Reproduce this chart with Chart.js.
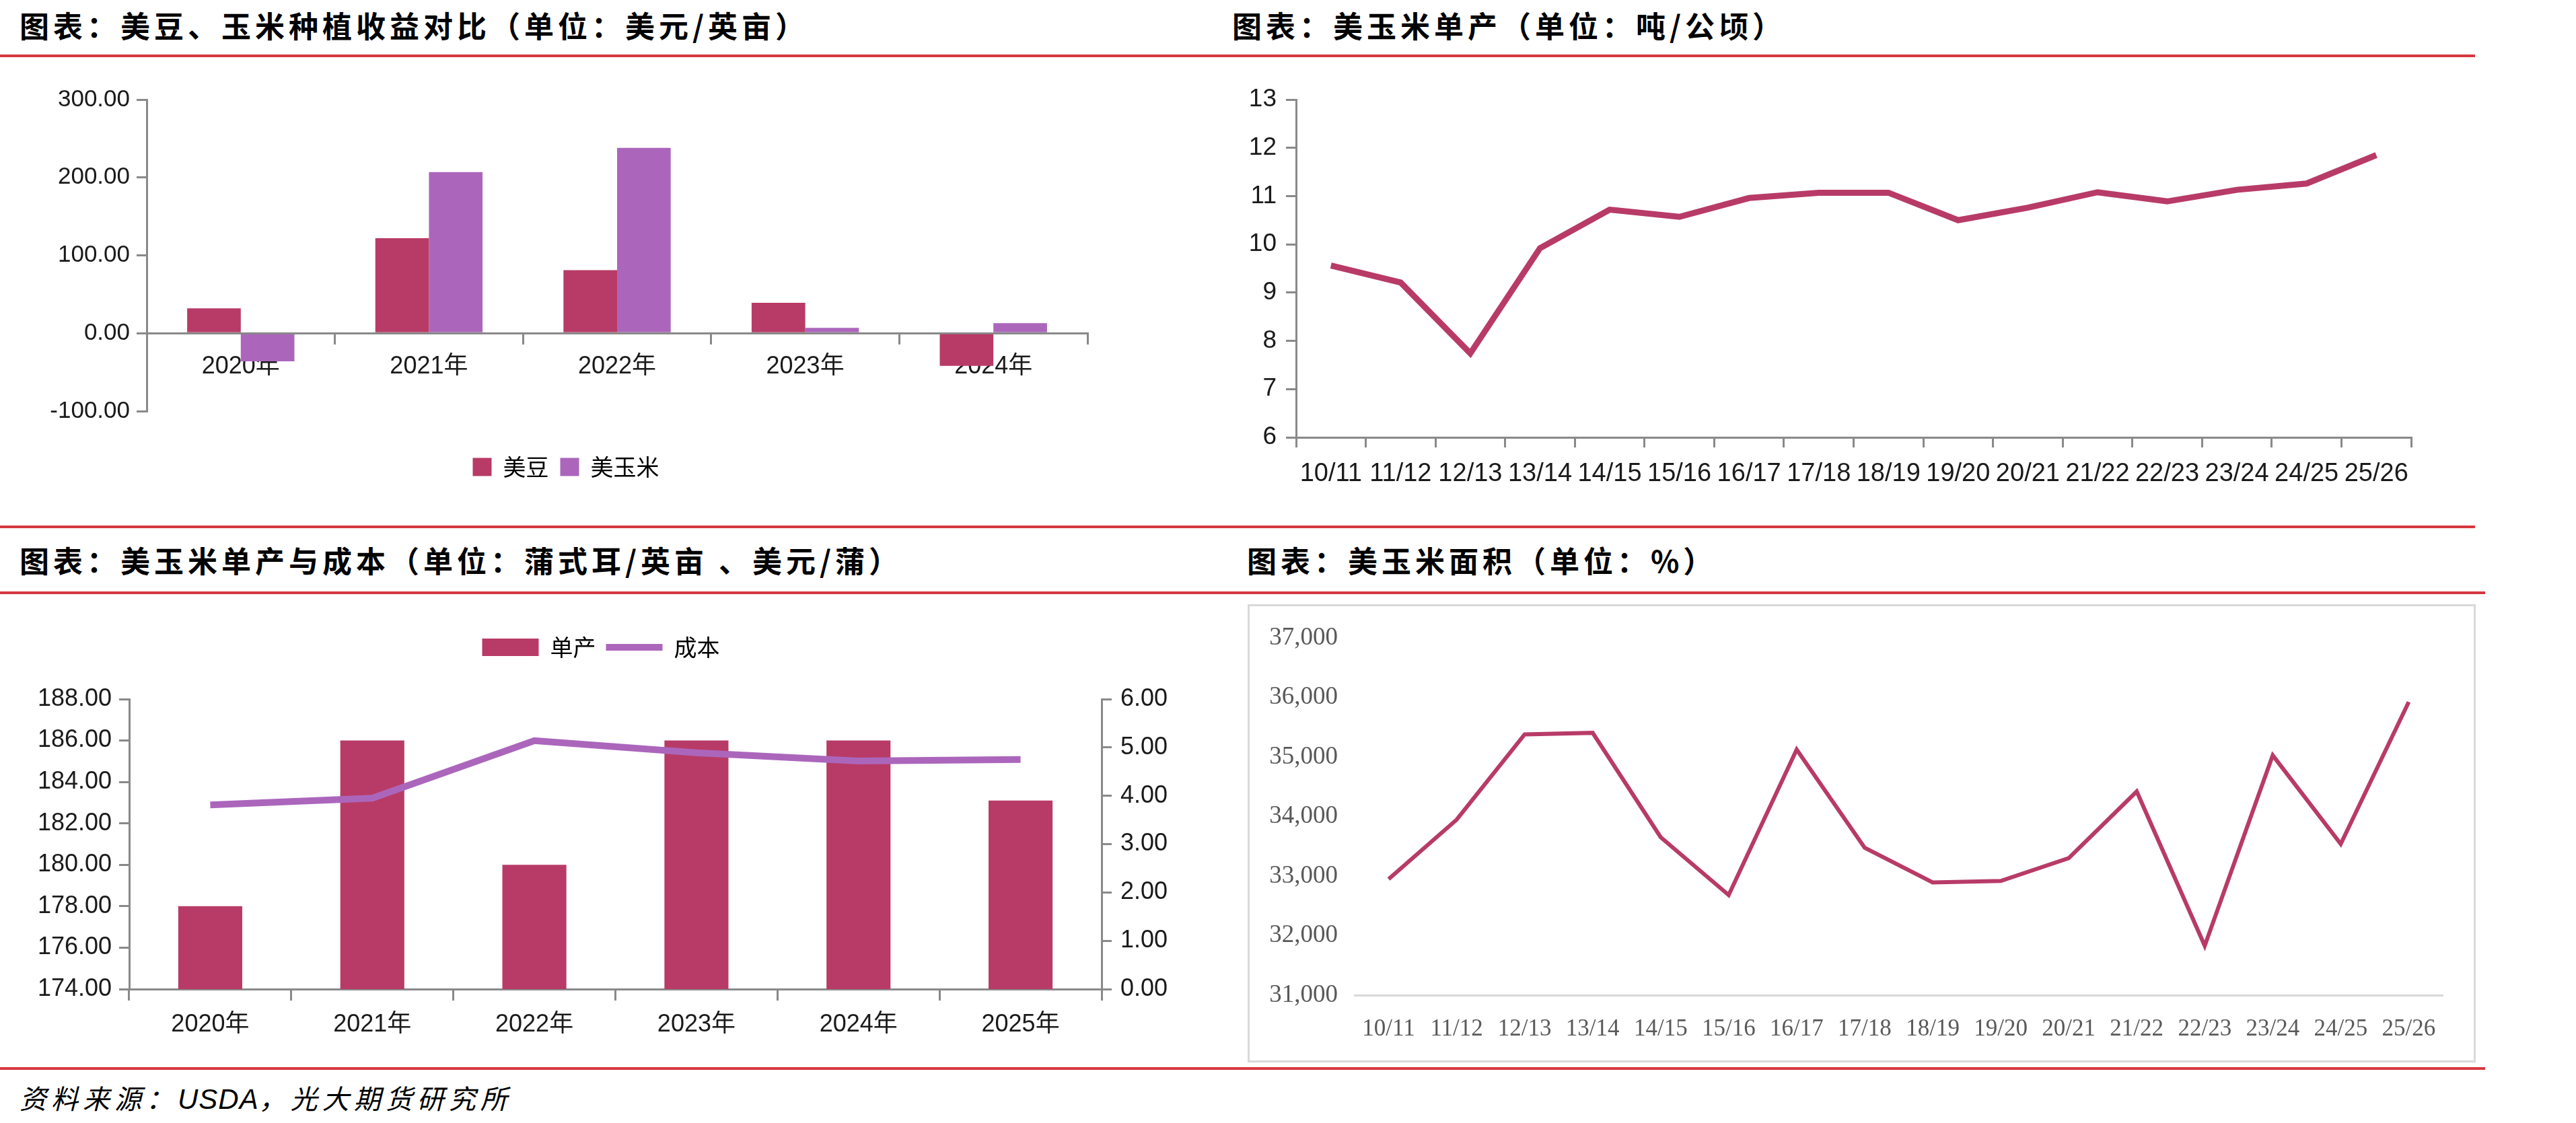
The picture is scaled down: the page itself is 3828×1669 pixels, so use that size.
<!DOCTYPE html>
<html lang="zh-CN">
<head>
<meta charset="utf-8">
<title>美豆、玉米收益与单产</title>
<script src="https://cdn.jsdelivr.net/npm/chart.js@4.4.1/dist/chart.umd.min.js"></script>
<style>
  html, body { margin: 0; padding: 0; background: #fff; }
  body { width: 3828px; height: 1669px; position: relative; overflow: hidden; }
  .title { position: absolute; font-family: "Noto Sans CJK SC", sans-serif; font-weight: 700; font-size: 44px; line-height: 44px; letter-spacing: 6px; color: #000; white-space: nowrap; }
  .rule { position: absolute; left: 0; height: 4px; background: #d7373f; }
  .panel { position: absolute; }
  .boxed { border: 3px solid #d9d9d9; box-sizing: border-box; }
  .source { position: absolute; left: 29px; top: 1610px; font-family: "Noto Sans CJK SC", sans-serif; font-style: italic; font-size: 40px; line-height: 42px; letter-spacing: 7px; color: #000; white-space: nowrap; }
  .source .latin { font-family: "Liberation Sans", sans-serif; letter-spacing: 1px; font-size: 42px; }
</style>
</head>
<body>
<div class="title" style="left:29px; top:15px;">图表：美豆、玉米种植收益对比（单位：美元/英亩）</div>
<div class="title" style="left:1831px; top:15px;">图表：美玉米单产（单位：吨/公顷）</div>
<div class="rule" style="top:81px; width:3678px;"></div>

<div class="panel" style="left:0; top:100px;"><canvas id="income" width="1760" height="650"></canvas></div>
<div class="panel" style="left:1800px; top:100px;"><canvas id="yield" width="2028" height="650"></canvas></div>

<div class="rule" style="top:781px; width:3678px;"></div>
<div class="title" style="left:29px; top:810px;">图表：美玉米单产与成本（单位：蒲式耳/英亩 、美元/蒲）</div>
<div class="title" style="left:1853px; top:810px;">图表：美玉米面积（单位：%）</div>
<div class="rule" style="top:879px; width:3693px;"></div>

<div class="panel" style="left:0; top:890px;"><canvas id="cost" width="1786" height="680"></canvas></div>
<div class="panel boxed" style="left:1854px; top:898px; width:1825px; height:681px;"><canvas id="area" width="1819" height="675"></canvas></div>

<div class="rule" style="top:1586px; width:3693px;"></div>
<div class="source">资料来源：<span class="latin">USDA</span>，光大期货研究所</div>

<script>
// 收益对比（美元/英亩）
const incomeYears = ['2020年', '2021年', '2022年', '2023年', '2024年'];
const soyIncome = [32, 122, 81, 39, -42];
const cornIncome = [-36, 207, 238, 7, 13];

// 美玉米单产（吨/公顷）与面积
const seasons = ['10/11', '11/12', '12/13', '13/14', '14/15', '15/16', '16/17', '17/18',
    '18/19', '19/20', '20/21', '21/22', '22/23', '23/24', '24/25', '25/26'];
const cornYield = [9.56, 9.21, 7.74, 9.92, 10.72, 10.57, 10.96, 11.07,
    11.07, 10.50, 10.76, 11.08, 10.89, 11.13, 11.26, 11.85];
const cornArea = [32950, 33948, 35381, 35407, 33654, 32681, 35125, 33475,
    32893, 32918, 33302, 34422, 31830, 35029, 33539, 35925];

// 单产（蒲式耳/英亩）与成本（美元/蒲）
const costYears = ['2020年', '2021年', '2022年', '2023年', '2024年', '2025年'];
const yieldBu = [178, 186, 180, 186, 186, 183.1];
const costPerBu = [3.81, 3.95, 5.14, 4.89, 4.72, 4.75];

const RED = '#b83b67';
const PURPLE = '#ab66bc';
const AXIS = '#898989';
const SANS = "'Liberation Sans', 'Noto Sans CJK SC', sans-serif";
const SERIF = "'Liberation Serif', 'Noto Sans CJK SC', serif";
const CJK = "'Noto Sans CJK SC', sans-serif";

Chart.defaults.font.family = SANS;
Chart.defaults.color = '#1a1a1a';
Chart.defaults.animation = false;
Chart.defaults.plugins.tooltip.enabled = false;

const fixW = w => s => { s.width = w; };
const fixH = h => s => { s.height = h; };
// force the legend box to a set height so the plot area lands where it should
const legendHeight = h => ({
    id: 'legendHeight',
    beforeInit(chart) {
        const fit = chart.legend.fit;
        chart.legend.fit = function () { fit.call(this); this.height = h; };
    }
});
const axisGrid = len => ({ drawOnChartArea: false, tickLength: len, color: AXIS, lineWidth: 3 });
const axisBorder = { color: AXIS, width: 3 };
const fixed2 = v => v.toFixed(2);

// 1. 美豆、玉米种植收益对比
new Chart(document.getElementById('income'), {
    type: 'bar',
    data: {
        labels: incomeYears,
        datasets: [
            { label: '美豆', data: soyIncome, backgroundColor: RED },
            { label: '美玉米', data: cornIncome, backgroundColor: PURPLE }
        ]
    },
    options: {
        responsive: false,
        layout: { padding: { left: 66, top: 48, right: 144, bottom: 0 } },
        datasets: { bar: { categoryPercentage: 0.57, barPercentage: 1 } },
        scales: {
            x: {
                position: { y: 0 },
                grid: axisGrid(15), border: axisBorder,
                ticks: { font: { size: 36 }, padding: 13, maxRotation: 0 }
            },
            gap: {
                type: 'category', position: 'bottom',
                grid: { display: false, drawTicks: false }, border: { display: false },
                ticks: { display: false }, afterFit: fixH(49)
            },
            y: {
                min: -100, max: 300,
                ticks: { stepSize: 100, callback: fixed2, font: { size: 35 }, padding: 10 },
                grid: axisGrid(15), border: axisBorder, afterFit: fixW(152)
            }
        },
        plugins: {
            legend: {
                position: 'bottom',
                labels: { boxWidth: 28, boxHeight: 27, padding: 17, color: '#000', font: { size: 34, family: CJK } }
            }
        }
    },
    plugins: [legendHeight(90)]
});

// 2. 美玉米单产
new Chart(document.getElementById('yield'), {
    type: 'line',
    data: {
        labels: seasons,
        datasets: [{ label: '单产', data: cornYield, borderColor: RED, borderWidth: 9, pointRadius: 0 }]
    },
    options: {
        responsive: false,
        layout: { padding: { left: 0, top: 48, right: 245, bottom: 0 } },
        scales: {
            x: {
                offset: true,
                grid: { ...axisGrid(15), offset: true }, border: axisBorder,
                ticks: { font: { size: 38 }, padding: 17, autoSkip: false, maxRotation: 0 },
                afterFit: fixH(100)
            },
            y: {
                min: 6, max: 13,
                ticks: { stepSize: 1, font: { size: 37 }, padding: 14 },
                grid: axisGrid(15), border: axisBorder, afterFit: fixW(126)
            }
        },
        plugins: { legend: { display: false } }
    }
});

// 3. 美玉米单产与成本
new Chart(document.getElementById('cost'), {
    data: {
        labels: costYears,
        datasets: [
            { type: 'bar', label: '单产', data: yieldBu, yAxisID: 'y', backgroundColor: RED,
              pointStyle: 'rect', barPercentage: 0.395, categoryPercentage: 1, order: 1 },
            { type: 'line', label: '成本', data: costPerBu, yAxisID: 'y1', borderColor: PURPLE,
              backgroundColor: PURPLE, borderWidth: 10, pointRadius: 0, pointStyle: 'line', order: 0 }
        ]
    },
    options: {
        responsive: false,
        layout: { padding: { left: 0, top: 40, right: 0, bottom: 0 } },
        scales: {
            x: {
                grid: { ...axisGrid(17), offset: true }, border: axisBorder,
                ticks: { font: { size: 36 }, padding: 14, maxRotation: 0 },
                afterFit: fixH(100)
            },
            y: {
                position: 'left', min: 174, max: 188,
                ticks: { stepSize: 2, callback: fixed2, font: { size: 36 }, padding: 11 },
                grid: axisGrid(15), border: axisBorder, afterFit: fixW(192)
            },
            y1: {
                position: 'right', min: 0, max: 6,
                ticks: { stepSize: 1, callback: fixed2, font: { size: 36 }, padding: 13 },
                grid: axisGrid(15), border: axisBorder, afterFit: fixW(149)
            }
        },
        plugins: {
            legend: {
                position: 'top',
                labels: {
                    usePointStyle: true, pointStyleWidth: 84, boxHeight: 26, padding: 15,
                    color: '#000', font: { size: 34, family: CJK },
                    sort: (a, b) => a.datasetIndex - b.datasetIndex
                }
            }
        }
    },
    plugins: [legendHeight(109)]
});

// 4. 美玉米面积
new Chart(document.getElementById('area'), {
    type: 'line',
    data: {
        labels: seasons,
        datasets: [{ label: '面积', data: cornArea, borderColor: RED, borderWidth: 6, pointRadius: 0 }]
    },
    options: {
        responsive: false,
        layout: { padding: { left: 0, top: 46, right: 46, bottom: 0 } },
        scales: {
            x: {
                offset: true,
                grid: { display: false, drawTicks: false }, border: { color: '#d9d9d9', width: 3 },
                ticks: { font: { size: 35, family: SERIF }, color: '#595959', padding: 30, autoSkip: false, maxRotation: 0 },
                afterFit: fixH(97)
            },
            y: {
                min: 31000, max: 37000,
                grid: { display: false, drawTicks: false }, border: { display: false },
                ticks: { stepSize: 1000, font: { size: 37, family: SERIF }, color: '#595959', padding: 25,
                         callback: v => v.toLocaleString('en-US') },
                afterFit: fixW(156)
            }
        },
        plugins: { legend: { display: false } }
    }
});
</script>
</body>
</html>
